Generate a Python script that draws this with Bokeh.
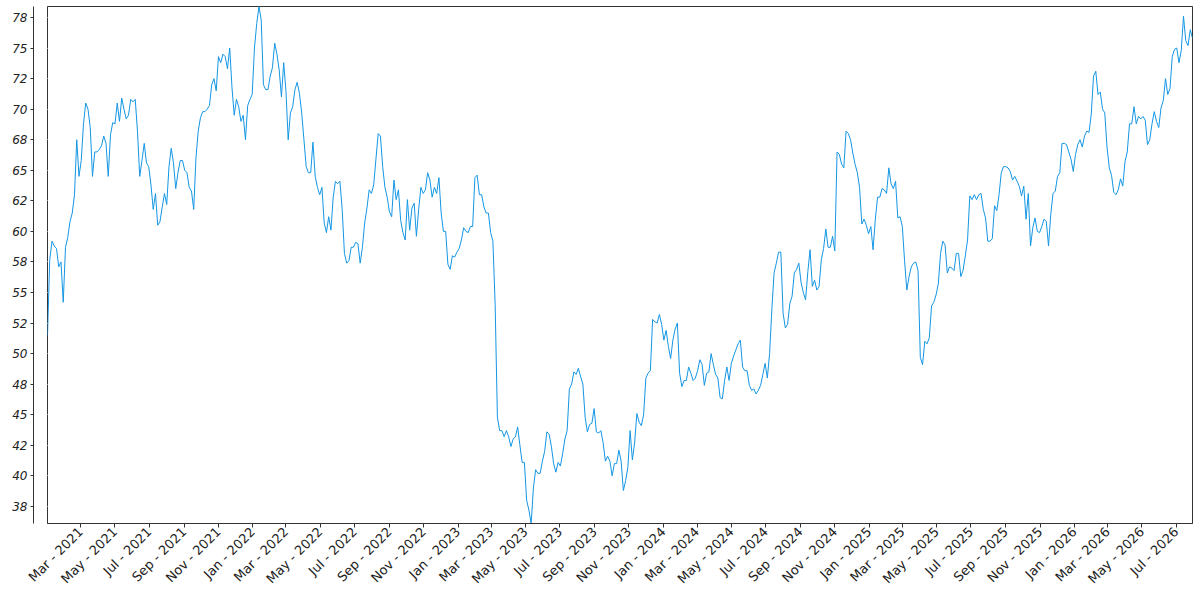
import numpy as np
import pandas as pd
from bokeh.plotting import figure
from bokeh.models import ColumnDataSource, FixedTicker, DatetimeTickFormatter, Range1d, LinearAxis
from bokeh.embed import file_html
from bokeh.resources import INLINE

# ---- data (one value every 4 days from 2021-01-01) ----
start_date = "2021-01-01"
step = "4D"
values = [
    51.5, 57.7, 59.2, 58.8, 58.6, 57.1, 57.5, 54.2, 58.7, 59.5,
    60.8, 61.5, 63.0, 67.5, 64.5, 65.8, 68.8, 70.5, 70.0, 68.5,
    64.5, 66.5, 66.5, 66.7, 67.0, 67.8, 67.2, 64.5, 67.9, 68.9,
    68.8, 70.5, 69.0, 70.9, 70.0, 69.2, 69.5, 70.8, 70.6, 70.8,
    68.2, 64.5, 65.8, 67.2, 65.6, 65.3, 63.8, 61.8, 63.1, 60.5,
    60.8, 62.0, 63.1, 62.2, 65.3, 66.8, 65.6, 63.5, 64.8, 65.8,
    65.8, 65.0, 64.8, 63.6, 63.3, 61.8, 66.0, 68.2, 69.3, 69.8,
    69.8, 70.0, 70.3, 72.0, 72.5, 71.5, 74.3, 73.8, 74.5, 74.3,
    73.3, 75.0, 71.8, 69.5, 70.8, 70.2,
    69.0, 69.5, 67.5, 70.3, 70.8, 71.2, 75.0, 77.0, 78.4, 77.3,
    72.0, 71.6, 71.6, 72.7, 73.4, 75.4, 74.5, 73.2, 71.0, 73.8,
    71.5, 67.5, 69.7, 70.2, 71.6, 72.2, 71.3, 69.7, 67.5, 65.3,
    64.8, 64.8, 67.3, 64.5, 63.6, 63.0, 63.6, 60.7, 59.9, 61.2,
    60.1, 62.8, 64.1, 63.9, 64.1, 61.8, 58.2, 57.4, 57.6, 58.7,
    58.7, 59.1, 59.0, 57.4, 58.7, 60.7, 61.9, 63.4, 63.1, 63.8,
    65.9, 68.0, 67.8, 65.3, 63.6, 62.8, 61.6, 61.2, 64.2, 62.6,
    63.4, 60.9, 59.9, 59.3, 62.6, 60.1, 61.9, 62.3, 59.6, 61.8,
    63.6, 63.1, 63.4, 64.8, 64.2, 62.8,
    63.6, 63.1, 64.4, 61.5, 60.0, 60.0, 57.3, 56.9, 58.0, 57.9,
    58.3, 58.6, 59.3, 60.3, 60.0, 59.9, 60.4, 60.4, 64.4, 64.6,
    63.0, 63.0, 62.0, 61.5, 61.5, 59.9, 59.2, 54.0, 44.8, 43.7,
    43.7, 43.2, 43.7, 43.2, 42.4, 43.0, 43.2, 44.0, 42.5, 41.1,
    41.1, 38.0, 37.2, 36.1, 39.0, 40.5, 40.2, 40.2, 41.2, 42.0,
    43.6, 43.4, 42.4, 41.0, 40.3, 41.1, 40.8, 41.8, 43.0, 43.7,
    47.1, 47.5, 48.5, 48.3, 48.8, 48.1, 47.5, 44.8, 43.6, 44.2,
    44.3, 45.5, 43.6, 43.5, 43.7, 42.7, 41.2, 41.6, 41.2, 40.0,
    41.0, 41.0, 42.1, 41.2, 38.8, 39.6, 40.7, 43.7,
    41.3, 42.7, 45.1, 44.4, 44.1, 45.0, 48.0, 48.4, 48.6, 52.8,
    52.6, 52.5, 53.2, 52.4, 51.1, 51.9, 50.6, 49.6, 51.1, 52.0,
    52.5, 48.4, 47.3, 47.8, 47.8, 48.9, 48.4, 47.8, 48.0, 48.6,
    49.5, 49.1, 47.4, 48.4, 48.5, 50.0, 49.1, 48.3, 48.0, 46.4,
    46.3, 47.8, 48.9, 47.8, 49.2, 49.8, 50.3, 50.8, 51.1, 48.9,
    48.6, 48.6, 47.4, 47.0, 47.1, 46.7, 47.0, 47.4, 48.3, 49.2,
    48.0, 50.0, 53.6, 56.6, 57.4, 58.3, 58.3, 53.3, 52.1, 52.4,
    54.1, 54.7, 56.6, 56.9, 57.4, 55.8, 55.0, 54.4, 56.7, 58.5,
    55.5, 56.0, 55.2, 55.5, 57.7, 58.6,
    60.2, 58.7, 58.7, 59.6, 58.4, 66.5, 66.3, 65.5, 65.2, 68.2,
    68.0, 67.5, 66.4, 65.5, 64.8, 63.6, 60.6, 61.0, 60.5, 59.8,
    60.4, 58.5, 61.0, 62.8, 62.8, 63.5, 63.4, 63.1, 65.2, 63.9,
    63.5, 64.1, 61.1, 61.2, 60.4, 57.6, 55.2, 56.3, 57.1, 57.4,
    57.5, 56.8, 49.7, 49.1, 51.0, 50.8, 51.3, 53.9, 54.2, 54.8,
    55.7, 58.2, 59.2, 58.9, 56.6, 57.1, 57.0, 56.8, 58.2, 58.2,
    56.3, 56.8, 58.0, 59.3, 62.9, 62.6, 63.0, 62.6, 63.0, 63.1,
    61.8, 61.1, 59.2, 59.2, 59.4, 62.1, 61.7, 63.0, 64.8, 65.3,
    65.3, 65.2, 64.9, 64.2, 64.5, 64.1, 63.7,
    62.9, 63.7, 61.0, 63.1, 58.8, 60.3, 61.1, 60.0, 59.9, 60.4,
    61.0, 60.8, 58.8, 61.4, 63.1, 63.3, 64.5, 64.8, 67.2, 67.2,
    67.1, 66.5, 65.9, 64.9, 66.3, 67.1, 67.5, 66.9, 67.8, 68.2,
    68.1, 69.6, 72.7, 73.1, 71.2, 71.4, 70.0, 69.7, 66.9, 65.2,
    64.6, 63.2, 63.0, 63.4, 64.3, 63.7, 65.7, 66.5, 68.8, 68.8,
    70.2, 68.8, 69.4, 69.2, 69.4, 69.1, 67.1, 67.5, 68.8, 69.8,
    69.0, 68.5, 70.1, 70.7, 72.5, 71.2, 71.7, 74.3, 74.9, 75.0,
    73.8, 74.8, 77.6, 75.6, 75.2, 76.5, 75.8,
]

tick_dates = pd.date_range("2021-03-01", "2026-07-01", freq="2MS")
y_ticks = [37.5, 40.0, 42.5, 45.0, 47.5, 50.0, 52.5, 55.0, 57.5, 60.0,
           62.5, 65.0, 67.5, 70.0, 72.5, 75.0, 77.5]
y_tick_labels = ["38", "40", "42", "45", "48", "50", "52", "55", "58", "60",
                 "62", "65", "68", "70", "72", "75", "78"]

dates = pd.date_range(start_date, periods=len(values), freq=step)
src = ColumnDataSource(dict(date=dates, value=values))

p = figure(
    x_axis_type="datetime",
    frame_width=1145, frame_height=517,
    min_border_left=47, min_border_right=8, min_border_top=6, min_border_bottom=0,
    x_range=Range1d(dates[0], dates[-1]),
    y_range=Range1d(min(values), max(values)),
    output_backend="svg", toolbar_location=None,
)
p.background_fill_color = "white"
p.border_fill_color = "white"
p.outline_line_color = "#333333"
p.outline_line_width = 1
p.xgrid.visible = False
p.ygrid.visible = False

p.line("date", "value", source=src, line_color="#1496e4", line_width=1)

# inner (spacer) y axis: invisible ticks that reserve a gap between frame and spine
inner = p.yaxis[0]
inner.ticker = FixedTicker(ticks=y_ticks)
inner.major_label_overrides = {t: "" for t in y_ticks}
inner.axis_line_color = None
inner.major_tick_in = 0
inner.major_tick_out = 14
inner.major_tick_line_color = "white"
inner.minor_tick_line_color = None
inner.major_label_standoff = 0
inner.major_label_text_font_size = "1px"

# outer y axis: the detached spine with ticks and labels
yax = LinearAxis(ticker=FixedTicker(ticks=y_ticks))
yax.major_label_overrides = {t: l for t, l in zip(y_ticks, y_tick_labels)}
yax.axis_line_color = "#333333"
yax.major_tick_in = 0
yax.major_tick_out = 3
yax.major_tick_line_color = "#333333"
yax.minor_tick_line_color = None
yax.major_label_standoff = 3
yax.major_label_text_font = "DejaVu Sans"
yax.major_label_text_font_style = "italic"
yax.major_label_text_font_size = "12px"
yax.major_label_text_color = "#222222"
p.add_layout(yax, "left")

# x axis
p.xaxis.ticker = FixedTicker(ticks=[t.value / 1e6 for t in tick_dates])
fmt = "%b - %Y"
p.xaxis.formatter = DatetimeTickFormatter(
    microseconds=fmt, milliseconds=fmt, seconds=fmt, minsec=fmt, minutes=fmt,
    hourmin=fmt, hours=fmt, days=fmt, months=fmt, years=fmt)
p.xaxis.major_label_orientation = np.pi / 4
p.xaxis.axis_line_color = "#333333"
p.xaxis.major_tick_in = 0
p.xaxis.major_tick_out = 4
p.xaxis.major_tick_line_color = "#333333"
p.xaxis.minor_tick_line_color = None
p.xaxis.major_label_standoff = 2
p.xaxis.major_label_text_font = "DejaVu Sans"
p.xaxis.major_label_text_font_size = "13px"
p.xaxis.major_label_text_color = "#222222"

open("out.html", "w").write(file_html(p, INLINE))
